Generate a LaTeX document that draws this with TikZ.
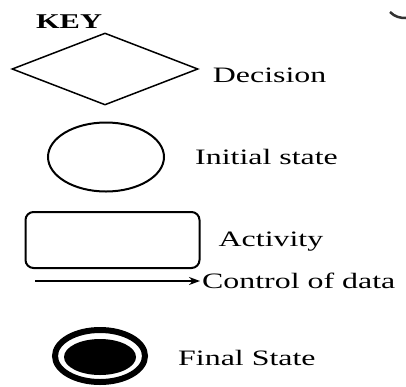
\documentclass[tikz,border=0pt]{standalone}
\usepackage{fontspec}
\setmainfont{Liberation Serif}[FakeStretch=1.45]
\usetikzlibrary{shapes,arrows.meta,positioning}
\tikzset{
    decision/.style={
        draw,
        diamond,
        line width=1.5pt,
        inner sep=0pt,
        minimum width=186pt,
        minimum height=72pt
    },
    start_state/.style={
        draw,
        ellipse,
        line width=2pt,
        inner sep=0pt,
        minimum width=116pt,
        minimum height=69pt
    },
    activity/.style={
        draw,
        rectangle,
        rounded corners=8pt,
        line width=2pt,
        minimum width=174pt,
        minimum height=56pt
    },
    final_ring/.style={
        draw,
        ellipse,
        line width=6pt,
        inner sep=0pt,
        minimum width=90pt,
        minimum height=52pt
    },
    final_dot/.style={
        fill=black,
        ellipse,
        inner sep=0pt,
        minimum width=72pt,
        minimum height=36pt
    },
    key_text/.style={
        inner sep=0pt,
        font=\fontsize{22}{26}\selectfont
    },
}
\begin{document}
\begin{tikzpicture}[x=1pt, y=-1pt]
    \useasboundingbox (0,0) rectangle (406,386);
    % title
    \node[key_text, font=\bfseries\fontsize{21}{25}\selectfont] (key) at (69,22) {KEY};
    % symbols
    \node[decision] (decision) at (105,69) {};
    \node[start_state] (start) at (106,157) {};
    \node[activity] (act) at (112.5,240) {};
    \node[final_ring] (final) at (100,356) {};
    \node[final_dot] (final_dot) at (100,357) {};
    \coordinate (flow_start) at (35,281);
    \coordinate (flow_end) at (200,281);
    % labels
    \node[key_text, right=14pt of decision.east, yshift=-6pt] (decision_text) {Decision};
    \node[key_text, right=30pt of start.east] (start_text) {Initial state};
    \node[key_text, right=18pt of act.east, yshift=-2pt] (act_text) {Activity};
    \node[key_text, right=2pt of flow_end] (flow_text) {Control of data};
    \node[key_text, right=30pt of final.east, yshift=-2pt] (final_text) {Final State};
    % lines
    \draw[-{Stealth[length=11pt,width=8pt]}, line width=1.6pt] (flow_start) -- (flow_end);
    % edge of a cut off figure
    \draw[line width=2.5pt, black!80] (390,12) .. controls (395,17) and (400,18) .. (406,18);
\end{tikzpicture}
\end{document}
